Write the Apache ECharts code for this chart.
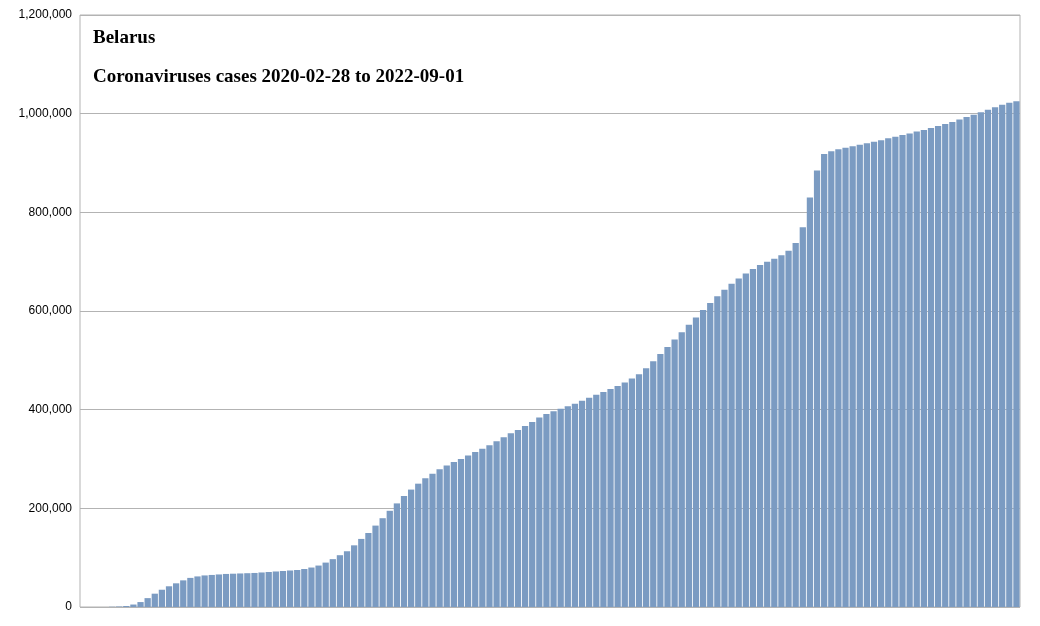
<!DOCTYPE html>
<html lang="en">
<head>
<meta charset="UTF-8">
<title>Belarus</title>
<script src="https://cdn.jsdelivr.net/npm/echarts@6/dist/echarts.min.js"></script>
<style>html,body{margin:0;padding:0;background:#fff}</style>
</head>
<body>
<div id="m1" style="width:1040px;height:626px"></div>
<script>
// weekly cumulative cases (2020-02-28 .. 2022-09-01)
var startDate = '2020-02-28';
var cases = [0, 0, 0, 0, 500, 1000, 2000, 5000, 10000, 18000,
    27000, 35000, 42000, 48000, 54000, 59000, 62000, 64000, 65000, 66000,
    67000, 67500, 68000, 68500, 69000, 70000, 71000, 72000, 73000, 74000,
    75000, 77000, 80000, 84000, 90000, 97000, 105000, 113000, 125000, 138000,
    150000, 165000, 180000, 195000, 210000, 225000, 238000, 250000, 261000, 270000,
    279000, 287000, 294000, 300000, 307000, 314000, 321000, 328000, 336000, 344000,
    352000, 359000, 367000, 375000, 384000, 391000, 397000, 402000, 407000, 412000,
    418000, 424000, 430000, 436000, 442000, 448000, 455000, 463000, 472000, 484000,
    498000, 513000, 527000, 542000, 557000, 572000, 587000, 602000, 616000, 630000,
    643000, 655000, 666000, 676000, 685000, 693000, 700000, 706000, 713000, 722000,
    738000, 770000, 830000, 885000, 918000, 924000, 928000, 931000, 934000, 937000,
    940000, 943000, 946000, 950000, 953000, 957000, 960000, 964000, 967000, 971000,
    975000, 979000, 983000, 988000, 993000, 998000, 1003000, 1008000, 1013000, 1018000,
    1022000, 1025000];
var yTicks = [0, 200000, 400000, 600000, 800000, 1000000, 1200000];

var dates = [];
var d0 = new Date(startDate + 'T00:00:00Z');
for (var i = 0; i < cases.length; i++) {
    var d = new Date(d0.getTime() + i * 7 * 86400000);
    dates.push(d.toISOString().slice(0, 10));
}

var my1 = echarts.init(document.getElementById('m1'));
my1.setOption({
    animation: false,
    title: {
        text: 'Belarus',
        subtext: 'Coronaviruses cases 2020-02-28 to 2022-09-01',
        left: 88, top: 24, itemGap: 20,
        textStyle: {fontFamily: 'Liberation Serif', fontWeight: 'bold', fontSize: 19, color: '#000'},
        subtextStyle: {fontFamily: 'Liberation Serif', fontWeight: 'bold', fontSize: 19, color: '#000'}
    },
    grid: {left: 80, right: 20, top: 15, bottom: 19, show: true, borderColor: '#b3b3b3', borderWidth: 1},
    xAxis: {
        type: 'category', data: dates,
        axisLine: {show: false}, axisTick: {show: false}, axisLabel: {show: false}
    },
    yAxis: {
        type: 'value', min: yTicks[0], max: yTicks[yTicks.length - 1], interval: 200000,
        axisLine: {show: false}, axisTick: {show: false},
        splitLine: {lineStyle: {color: '#b3b3b3'}},
        axisLabel: {
            margin: 8, fontSize: 12, fontFamily: 'Liberation Sans', color: '#000',
            formatter: function (v) { return v.toLocaleString('en-US'); }
        }
    },
    series: [{
        type: 'bar', data: cases, barCategoryGap: '12%',
        itemStyle: {color: '#7b9bc2'}
    }]
});
</script>
</body>
</html>
